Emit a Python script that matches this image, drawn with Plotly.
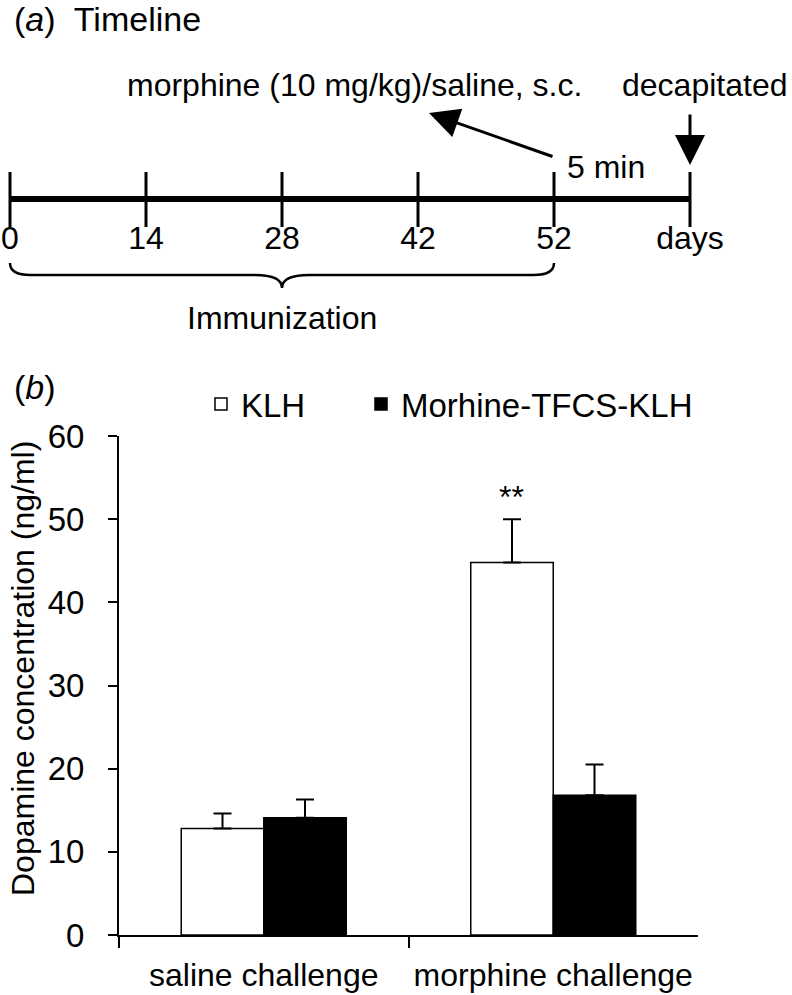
import plotly.graph_objects as go

W, H = 792, 995

# ---- (a) timeline data
tl_labels = ["0", "14", "28", "42", "52", "days"]
imm_start, imm_end = 0, 4          # immunization spans day 0 .. day 52
challenge_idx = 4                  # morphine / saline given on day 52
decap_idx = 5

# ---- (b) dopamine data
categories = ["saline challenge", "morphine challenge"]
klh_mean = [12.8, 44.8]
klh_err = [1.8, 5.2]
mt_mean = [14.1, 16.8]
mt_err = [2.2, 3.7]
groups = ["KLH", "Morhine-TFCS-KLH"]

FONT = "Liberation Sans, Arial, sans-serif"


def px(x):
    return x / W


def py(y):
    return 1 - y / H


fig = go.Figure()

# timeline main line
pos = list(range(len(tl_labels)))
fig.add_trace(go.Scatter(x=[pos[0], pos[-1]], y=[0, 0], mode="lines",
                         line=dict(color="black", width=6), cliponaxis=False,
                         xaxis="x2", yaxis="y2", showlegend=False, hoverinfo="skip"))
# tick marks
tx, ty = [], []
for p in pos:
    tx += [p, p, None]
    ty += [-28, 27, None]
fig.add_trace(go.Scatter(x=tx, y=ty, mode="lines", line=dict(color="black", width=3),
                         cliponaxis=False,
                         xaxis="x2", yaxis="y2", showlegend=False, hoverinfo="skip"))
# tick labels
fig.add_trace(go.Scatter(x=pos, y=[-42] * len(pos), mode="text", text=tl_labels,
                         textfont=dict(family=FONT, size=32, color="black"), cliponaxis=False,
                         xaxis="x2", yaxis="y2", showlegend=False, hoverinfo="skip"))

# brace under immunization period
mid = (imm_start + imm_end) / 2
brace = (f"M {imm_start},-64 Q {imm_start},-76 {imm_start + 0.15},-76 "
         f"L {mid - 0.2},-76 Q {mid},-76 {mid},-89 Q {mid},-76 {mid + 0.2},-76 "
         f"L {imm_end - 0.15},-76 Q {imm_end},-76 {imm_end},-64")
fig.add_shape(type="path", path=brace, xref="x2", yref="y2",
              line=dict(color="black", width=2.5))

# ---- (b) bars
fig.add_trace(go.Bar(x=categories, y=klh_mean, name=groups[0], legend="legend",
                     marker=dict(color="white", line=dict(color="black", width=1.5)),
                     error_y=dict(type="data", array=klh_err, arrayminus=[0, 0], symmetric=False,
                                  color="black", thickness=2, width=9)))
fig.add_trace(go.Bar(x=categories, y=mt_mean, name=groups[1], legend="legend2",
                     marker=dict(color="black", line=dict(color="black", width=1.5)),
                     error_y=dict(type="data", array=mt_err, arrayminus=[0, 0], symmetric=False,
                                  color="black", thickness=2, width=9)))

ann = [
    dict(text="(<i>a</i>)\u00a0 Timeline", x=px(12), y=py(19), xref="paper", yref="paper",
         xanchor="left", yanchor="middle", showarrow=False, font=dict(size=34)),
    dict(text="morphine (10 mg/kg)/saline, s.c.", x=px(354), y=py(85), xref="paper", yref="paper",
         xanchor="center", yanchor="middle", showarrow=False, font=dict(size=32)),
    dict(text="decapitated", x=px(704), y=py(85), xref="paper", yref="paper",
         xanchor="center", yanchor="middle", showarrow=False, font=dict(size=32)),
    dict(text="5 min", x=px(606), y=py(167), xref="paper", yref="paper",
         xanchor="center", yanchor="middle", showarrow=False, font=dict(size=32)),
    dict(text="Immunization", x=mid, y=-119, xref="x2", yref="y2",
         xanchor="center", yanchor="middle", showarrow=False, font=dict(size=32)),
    # arrows
    dict(x=challenge_idx - 125 / 136, y=86, xref="x2", yref="y2", ax=125, ay=44,
         showarrow=True, arrowhead=2, arrowsize=2, arrowwidth=3, arrowcolor="black", text=""),
    dict(x=decap_idx, y=34, xref="x2", yref="y2", ax=0, ay=-52,
         showarrow=True, arrowhead=2, arrowsize=2, arrowwidth=3, arrowcolor="black", text=""),
    dict(text="(<i>b</i>)", x=px(12), y=py(387), xref="paper", yref="paper",
         xanchor="left", yanchor="middle", showarrow=False, font=dict(size=34)),
    dict(text="Dopamine concentration (ng/ml)", x=px(23), y=py(669), xref="paper", yref="paper",
         xanchor="center", yanchor="middle", textangle=-90, showarrow=False, font=dict(size=32)),
    dict(text="**", x=categories[1], y=klh_mean[1] + klh_err[1], xref="x", yref="y",
         xshift=-42, yshift=2, xanchor="center", yanchor="bottom", showarrow=False,
         font=dict(size=32)),
]

fig.update_layout(
    width=W, height=H,
    margin=dict(l=0, r=0, t=0, b=0),
    paper_bgcolor="white", plot_bgcolor="white",
    font=dict(family=FONT, color="black"),
    barmode="group", bargap=0.43, bargroupgap=0,
    annotations=ann,
    xaxis=dict(domain=[px(119), px(698)], showline=True, linecolor="black", linewidth=2,
               ticks="outside", tickson="boundaries", ticklen=11, tickwidth=2, tickcolor="black",
               tickfont=dict(size=32), ticklabelstandoff=11, showgrid=False, automargin=False,
               fixedrange=True),
    yaxis=dict(domain=[py(935), py(436)], range=[0, 60], dtick=10, showline=True,
               linecolor="black", linewidth=2, ticks="outside", ticklen=9, tickwidth=2,
               tickcolor="black", tickfont=dict(size=33), ticklabelstandoff=17,
               showgrid=False, zeroline=False, automargin=False),
    xaxis2=dict(domain=[0, 1], range=[-10 / 136, (W - 10) / 136], visible=False),
    yaxis2=dict(domain=[py(345), 1], range=[199 - 345, 199], visible=False),
    legend=dict(orientation="h", x=px(201), y=py(404), xanchor="left", yanchor="middle",
                font=dict(size=33), itemwidth=30, bgcolor="rgba(0,0,0,0)"),
    legend2=dict(orientation="h", x=px(361), y=py(404), xanchor="left", yanchor="middle",
                 font=dict(size=33), itemwidth=30, bgcolor="rgba(0,0,0,0)"),
)

# drop the browser's default 8px body margin so the figure fills the window
fig.write_html("out.html", config={"displayModeBar": False},
               post_script="document.body.style.margin = '0';")
